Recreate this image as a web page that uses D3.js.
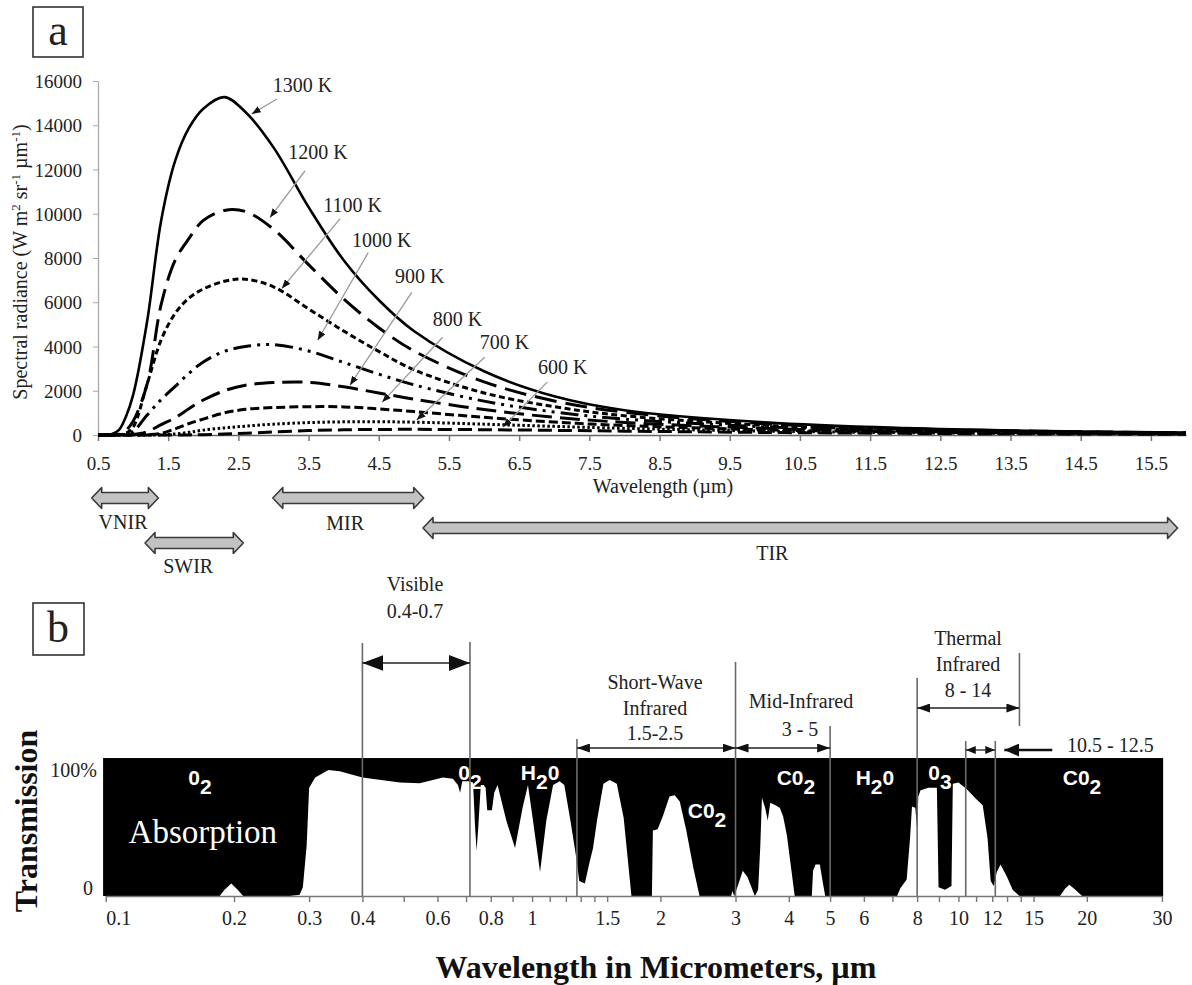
<!DOCTYPE html>
<html><head><meta charset="utf-8">
<script src="https://cdn.jsdelivr.net/npm/d3@7"></script>
<style>body{margin:0;background:#fff} svg{display:block}</style>
</head><body>
<svg id="chart" width="1192" height="985"></svg>
<script>
// ================= DATA =================
// Panel a: spectral radiance (W m-2 sr-1 um-1)
const wavelengths = [0.5, 0.7, 0.8, 0.9, 1.0, 1.2, 1.4, 1.6, 1.8, 2.0, 2.3, 2.6, 3.0, 3.5, 4.0, 4.5, 5.0, 6.0, 7.0, 8.0, 10, 12, 14, 16];
const temps = ["1300 K","1200 K","1100 K","1000 K","900 K","800 K","700 K","600 K"];
const rad1300 = [0, 50, 230, 850, 1800, 5140, 9700, 12400, 13900, 14750, 15270, 14600, 13000, 10300, 7900, 6100, 4700, 2880, 1750, 1120, 570, 310, 180, 112];
const rad1200 = [0, 0, 40, 220, 620, 2300, 5900, 7900, 8900, 9700, 10150, 10100, 9300, 7700, 6150, 4850, 3800, 2400, 1540, 1030, 510, 280, 165, 100];
const rad1100 = [0, 0, 10, 80, 350, 2300, 4300, 5500, 6200, 6600, 6950, 7040, 6700, 5700, 4700, 3780, 2950, 1900, 1280, 870, 440, 240, 143, 90];
const rad1000 = [0, 0, 0, 30, 150, 900, 1600, 2200, 2800, 3300, 3780, 4000, 4080, 3800, 3280, 2750, 2270, 1530, 1040, 720, 370, 207, 123, 78];
const rad900  = [0, 0, 0, 0, 20, 150, 470, 780, 1200, 1580, 2000, 2250, 2370, 2380, 2180, 1900, 1620, 1150, 800, 570, 300, 172, 104, 66];
const rad800  = [0, 0, 0, 0, 0, 20, 80, 280, 520, 720, 1000, 1160, 1240, 1280, 1270, 1180, 1060, 800, 585, 428, 236, 138, 85, 55];
const rad700  = [0, 0, 0, 0, 0, 0, 10, 50, 120, 220, 320, 400, 490, 560, 595, 600, 580, 490, 390, 300, 175, 105, 66, 44];
const rad600  = [0, 0, 0, 0, 0, 0, 0, 0, 5, 15, 40, 80, 140, 200, 235, 250, 255, 240, 210, 175, 115, 75, 49, 33];
const xTicksA = [0.5,1.5,2.5,3.5,4.5,5.5,6.5,7.5,8.5,9.5,10.5,11.5,12.5,13.5,14.5,15.5];
const yTicksA = [0,2000,4000,6000,8000,10000,12000,14000,16000];
// curve callouts: text at (tx,ty), arrow from (fx,fy) to (ax,ay), in data units
const curveLabels = [
  {t:"1300 K", tx:2.99, ty:15504, fx:3.05, fy:15189, ax:2.69, ay:14513},
  {t:"1200 K", tx:3.21, ty:12484, fx:3.45, fy:11944, ax:2.95, ay:9825},
  {t:"1100 K", tx:3.71, ty:10096, fx:3.95, fy:9780,  ax:3.12, ay:6625},
  {t:"1000 K", tx:4.12, ty:8518,  fx:4.35, fy:8248,  ax:3.63, ay:4282},
  {t:"900 K",  tx:4.73, ty:6851,  fx:4.97, fy:6445,  ax:4.09, ay:2254},
  {t:"800 K",  tx:5.27, ty:4913,  fx:5.41, fy:4417,  ax:4.55, ay:1487},
  {t:"700 K",  tx:5.94, ty:3876,  fx:6.01, fy:3515,  ax:5.04, ay:676},
  {t:"600 K",  tx:6.77, ty:2749,  fx:6.90, fy:2389,  ax:6.27, ay:361}
];
const irBands = ["VNIR","SWIR","MIR","TIR"];
const irFrom  = [0.41, 1.17, 2.99, 5.13];
const irTo    = [1.36, 2.57, 5.14, 15.88];

// Panel b: atmospheric transmission (%) vs wavelength (um)
const transmission = [
 [0.0986,0],[0.185,0],[0.19,5],[0.197,10],[0.204,5],[0.21,0],[0.27,0],[0.285,1],[0.29,7],[0.296,40],[0.3,86],[0.31,94],
 [0.333,100],[0.354,99],[0.4,94],[0.49,90],[0.545,89.5],[0.618,94],[0.652,93],[0.67,88],[0.678,82],[0.686,91],[0.71,91],
 [0.727,90],[0.735,55],[0.741,36],[0.748,55],[0.758,88],[0.77,88],[0.778,86],[0.785,68],[0.805,68],[0.815,82],[0.83,88],
 [0.87,60],[0.912,38],[0.95,70],[0.978,88],[1.0,65],[1.044,19],[1.08,60],[1.12,88],[1.16,91],[1.19,88],[1.23,60],
 [1.27,30],[1.29,12],[1.33,10],[1.36,25],[1.39,38],[1.42,60],[1.47,89],[1.52,92],[1.58,89],[1.64,62],[1.71,0],[1.91,0],
 [1.92,52],[1.97,53],[2.03,64],[2.1,79],[2.16,80],[2.22,75],[2.3,52],[2.39,22],[2.47,0],[2.93,0],[2.95,4],[2.98,0],
 [3.05,10],[3.12,20],[3.2,15],[3.33,0],[3.39,5],[3.43,40],[3.46,78],[3.52,70],[3.57,60],[3.62,74],[3.72,72],[3.81,70],
 [3.88,63],[3.96,48],[4.03,28],[4.13,0],[4.53,0],[4.56,20],[4.62,25],[4.73,25],[4.8,12],[4.87,0],[7.18,0],[7.3,6],
 [7.56,13],[7.7,46],[7.78,71],[7.92,70],[8.0,53],[8.05,79],[8.15,84],[8.5,86],[8.9,86],[8.98,7],[9.3,5],[9.63,8],
 [9.7,89],[10.0,90],[10.45,85],[11.0,77],[11.4,72],[11.7,46],[11.9,12],[12.1,8],[12.3,19],[12.55,25],[13.0,15],
 [13.4,5],[13.9,0],[17.3,0],[17.8,6],[18.2,9],[18.8,5],[19.5,0],[30.2,0]
];
const xTicksB = [0.1,0.2,0.3,0.4,0.5,0.6,0.7,0.8,0.9,1,1.1,1.2,1.3,1.4,1.5,2,3,4,5,6,7,8,9,10,11,12,13,14,15,20,30];
const xTickLabelsB = [0.1,0.2,0.3,0.4,0.6,0.8,1,1.5,2,3,4,5,6,8,10,12,15,20,30];
const gasLabels = [
 {main:"0",  sub:"2", after:"",  wl:0.1664, pct:88},
 {main:"0",  sub:"2", after:"",  wl:0.715,  pct:92},
 {main:"H",  sub:"2", after:"0", wl:1.044,  pct:92},
 {main:"C0", sub:"2", after:"",  wl:2.572,  pct:62},
 {main:"C0", sub:"2", after:"",  wl:4.157,  pct:88},
 {main:"H",  sub:"2", after:"0", wl:6.37,   pct:88},
 {main:"0",  sub:"3", after:"",  wl:9.05,   pct:92},
 {main:"C0", sub:"2", after:"",  wl:19.49,  pct:88}
];

// ================= DRAW =================
const svg = d3.select("#chart");
const serif = "'Liberation Serif','Times New Roman',serif";
const sans = "'Liberation Sans',Arial,sans-serif";
const defs = svg.append("defs");
function marker(id, w, h, color){
  defs.append("marker").attr("id",id).attr("markerUnits","userSpaceOnUse")
    .attr("markerWidth",w).attr("markerHeight",h).attr("refX",w).attr("refY",h/2)
    .attr("orient","auto-start-reverse")
    .append("path").attr("d",`M0,0L${w},${h/2}L0,${h}Z`).attr("fill",color);
}
marker("ahA", 9, 7, "#111");
marker("ahBig", 21, 16, "#111");
marker("ahB", 13, 9, "#111");
marker("ahS", 10, 8, "#111");
marker("ahL", 15, 13, "#111");

// ---------- Panel a ----------
const xA = d3.scaleLinear().domain([0.5, 16]).range([98, 1186]);
const yA = d3.scaleLinear().domain([0, 16000]).range([435, 81]);
const gA = svg.append("g");

// panel letter
gA.append("rect").attr("x",33).attr("y",7).attr("width",50).attr("height",50)
  .attr("fill","none").attr("stroke","#333").attr("stroke-width",1.6);
gA.append("text").attr("x",58).attr("y",45).attr("text-anchor","middle")
  .attr("font-family",serif).attr("font-size",44).attr("fill","#222").text("a");

// axes
const axA = gA.append("g").attr("transform","translate(0,435)")
  .call(d3.axisBottom(xA).tickValues(xTicksA).tickSize(6).tickSizeOuter(0).tickFormat(d=>d));
axA.select(".domain").attr("stroke","#666").attr("stroke-width",1.5);
axA.selectAll(".tick line").attr("stroke","#777").attr("stroke-width",1.5);
axA.selectAll("text").attr("y",35).attr("dy",0).attr("font-family",serif).attr("font-size",19).attr("fill","#222");

const ayA = gA.append("g").attr("transform","translate(98,0)")
  .call(d3.axisLeft(yA).tickValues(yTicksA).tickSize(5).tickSizeOuter(0).tickFormat(d=>d));
ayA.select(".domain").attr("stroke","#aaa").attr("stroke-width",1.3);
ayA.selectAll(".tick line").attr("stroke","#aaa");
ayA.selectAll("text").attr("x",-16).attr("dy","0.35em").attr("font-family",serif).attr("font-size",19).attr("fill","#222");

// axis titles
gA.append("text").attr("x",663).attr("y",493).attr("text-anchor","middle")
  .attr("font-family",serif).attr("font-size",20).attr("fill","#222").text("Wavelength (\u00b5m)");
const yt = gA.append("text").attr("transform","translate(27,262) rotate(-90)").attr("text-anchor","middle")
  .attr("font-family",serif).attr("font-size",20).attr("fill","#222");
yt.append("tspan").text("Spectral radiance (W m");
yt.append("tspan").attr("dy",-7).attr("font-size",13).text("2");
yt.append("tspan").attr("dy",7).text(" sr");
yt.append("tspan").attr("dy",-7).attr("font-size",13).text("-1");
yt.append("tspan").attr("dy",7).text(" \u00b5m");
yt.append("tspan").attr("dy",-7).attr("font-size",13).text("-1");
yt.append("tspan").attr("dy",7).text(")");

// curves
const radiance = [rad1300, rad1200, rad1100, rad1000, rad900, rad800, rad700, rad600];
const dashes = [null, "22,9", "6,3.5", "18,6,3,6,3,6", "20,8", "9,4", "2.5,2.5", "14,6"];
const widths = [2.6, 3, 3, 3, 3, 3, 3, 3];
const line = d3.line().x((d,i)=>xA(wavelengths[i])).y(d=>yA(Math.max(0,d))).curve(d3.curveCatmullRom.alpha(0.5));
gA.selectAll("path.curve").data(radiance).join("path").attr("class","curve")
  .attr("d", d=>line(d)).attr("fill","none").attr("stroke","#000")
  .attr("stroke-width",(d,i)=>widths[i])
  .attr("stroke-dasharray",(d,i)=>dashes[i]);

// callouts
gA.selectAll("line.callout").data(curveLabels).join("line").attr("class","callout")
  .attr("x1",d=>xA(d.fx)).attr("y1",d=>yA(d.fy)).attr("x2",d=>xA(d.ax)).attr("y2",d=>yA(d.ay))
  .attr("stroke","#9a9a9a").attr("stroke-width",1.3).attr("marker-end","url(#ahA)");
gA.selectAll("text.clab").data(curveLabels).join("text").attr("class","clab")
  .attr("x",d=>xA(d.tx)).attr("y",d=>yA(d.ty))
  .attr("font-family",serif).attr("font-size",20).attr("fill","#222").text(d=>d.t);

// IR band block arrows
const bandRows = {VNIR:{cy:498, ly:529, ldx:-2}, SWIR:{cy:543, ly:573, ldx:-6}, MIR:{cy:498, ly:530, ldx:-3}, TIR:{cy:528, ly:560, ldx:-28}};
function blockArrow(x0, x1, cy){
  const sh=5.5, hh=10.5, hl=10;
  return `M${x0},${cy}L${x0+hl},${cy-hh}L${x0+hl},${cy-sh}L${x1-hl},${cy-sh}L${x1-hl},${cy-hh}L${x1},${cy}`+
         `L${x1-hl},${cy+hh}L${x1-hl},${cy+sh}L${x0+hl},${cy+sh}L${x0+hl},${cy+hh}Z`;
}
irBands.forEach((b,i)=>{
  const r = bandRows[b], x0 = xA(irFrom[i]), x1 = xA(irTo[i]);
  gA.append("path").attr("d",blockArrow(x0,x1,r.cy)).attr("fill","#c2c2c2")
    .attr("stroke","#3a3a3a").attr("stroke-width",1.6).attr("stroke-linejoin","round");
  gA.append("text").attr("x",(x0+x1)/2 + r.ldx).attr("y",r.ly).attr("text-anchor","middle")
    .attr("font-family",serif).attr("font-size",20).attr("fill","#222").text(b);
});

// ---------- Panel b ----------
const xB = d3.scaleLog().domain([0.1, 30]).range([105.7, 1161.9]);
const yB = d3.scaleLinear().domain([0, 100]).range([896, 770]);
const gB = svg.append("g");

gB.append("rect").attr("x",33).attr("y",603).attr("width",51).attr("height",52)
  .attr("fill","none").attr("stroke","#333").attr("stroke-width",1.6);
gB.append("text").attr("x",58).attr("y",642).attr("text-anchor","middle")
  .attr("font-family",serif).attr("font-size",44).attr("fill","#222").text("b");

const wlMin = transmission[0][0], wlMax = transmission[transmission.length-1][0];
gB.append("rect").attr("x",xB(wlMin)).attr("y",yB(109.5))
  .attr("width",xB(wlMax)-xB(wlMin)).attr("height",yB(0)-yB(109.5)).attr("fill","#000");
const area = d3.area().x(d=>xB(d[0])).y0(yB(0)).y1(d=>yB(d[1]));
gB.append("path").attr("d",area(transmission)).attr("fill","#fff");

// axis
const axB = gB.append("g").attr("transform",`translate(0,${yB(0)})`)
  .call(d3.axisBottom(xB).tickValues(xTicksB).tickSize(6).tickSizeOuter(0)
    .tickFormat(d=> xTickLabelsB.includes(d) ? d : ""));
axB.select(".domain").attr("stroke","#777").attr("stroke-width",1.5);
axB.selectAll(".tick line").attr("stroke","#777").attr("stroke-width",1.4);
axB.selectAll("text").attr("y",29).attr("dy",0).attr("font-family",serif).attr("font-size",20).attr("fill","#222");
axB.selectAll("text").filter(d=>d===0.1).attr("text-anchor","start");

gB.append("text").attr("x",97).attr("y",yB(100)+7).attr("text-anchor","end")
  .attr("font-family",serif).attr("font-size",20).attr("fill","#222").text("100%");
gB.append("text").attr("x",93).attr("y",yB(0)-1).attr("text-anchor","end")
  .attr("font-family",serif).attr("font-size",20).attr("fill","#222").text("0");

gB.append("text").attr("transform","translate(37,821) rotate(-90)").attr("text-anchor","middle")
  .attr("font-family",serif).attr("font-size",32).attr("font-weight","bold").attr("fill","#111").text("Transmission");
gB.append("text").attr("x",656).attr("y",978).attr("text-anchor","middle")
  .attr("font-family",serif).attr("font-size",32).attr("font-weight","bold").attr("fill","#111")
  .text("Wavelength in Micrometers, \u00b5m");

// in-plot labels
gB.append("text").attr("x",xB(0.169)).attr("y",yB(42)).attr("text-anchor","middle")
  .attr("font-family",serif).attr("font-size",33).attr("fill","#fff").text("Absorption");
gasLabels.forEach(g=>{
  const t = gB.append("text").attr("x",xB(g.wl)).attr("y",yB(g.pct)).attr("text-anchor","middle")
    .attr("font-family",sans).attr("font-weight","bold").attr("font-size",21).attr("fill","#fff");
  t.append("tspan").text(g.main);
  t.append("tspan").attr("dy",9).text(g.sub);
  if (g.after) t.append("tspan").attr("dy",-9).text(g.after);
});

// region annotations
const vline = (wl, top, bottom) => gB.append("line").attr("x1",xB(wl)).attr("x2",xB(wl))
  .attr("y1",top).attr("y2",bottom===undefined ? yB(0) : bottom).attr("stroke","#6a6a6a").attr("stroke-width",1.6);
const darrow = (w0, w1, y, mk, sw) => gB.append("line").attr("x1",xB(w0)).attr("x2",xB(w1)).attr("y1",y).attr("y2",y)
  .attr("stroke","#222").attr("stroke-width",sw||1.3).attr("marker-start",`url(#${mk})`).attr("marker-end",`url(#${mk})`);
const label = (x, y, txt) => gB.append("text").attr("x",x).attr("y",y).attr("text-anchor","middle")
  .attr("font-family",serif).attr("font-size",20).attr("fill","#222").text(txt);

// Visible
vline(0.4, 643); vline(0.715, 642);
darrow(0.4, 0.715, 663, "ahBig");
label(415, 591, "Visible"); label(415, 618, "0.4-0.7");
// Short-wave IR
vline(1.274, 739); vline(3.0, 662);
darrow(1.274, 3.0, 748, "ahB");
label(655, 689, "Short-Wave"); label(655, 715, "Infrared"); label(655, 740, "1.5-2.5");
// Mid IR
vline(5.0, 726);
darrow(3.0, 5.0, 748, "ahB");
label(801, 708, "Mid-Infrared"); label(800, 736, "3 - 5");
// Thermal IR
vline(8.0, 678); vline(13.9, 653, 726);
darrow(8.0, 13.9, 708, "ahB");
label(968, 645, "Thermal"); label(968, 671, "Infrared"); label(968, 697, "8 - 14");
// 10.5 - 12.5
vline(10.4, 741); vline(12.2, 741);
darrow(10.4, 12.2, 750, "ahS");
gB.append("line").attr("x1",xB(12.2)+57).attr("x2",xB(12.2)+9).attr("y1",750).attr("y2",750)
  .attr("stroke","#111").attr("stroke-width",2.6).attr("marker-end","url(#ahL)");
gB.append("text").attr("x",1067).attr("y",752).attr("font-family",serif).attr("font-size",20)
  .attr("fill","#222").text("10.5 - 12.5");
</script>
</body></html>
